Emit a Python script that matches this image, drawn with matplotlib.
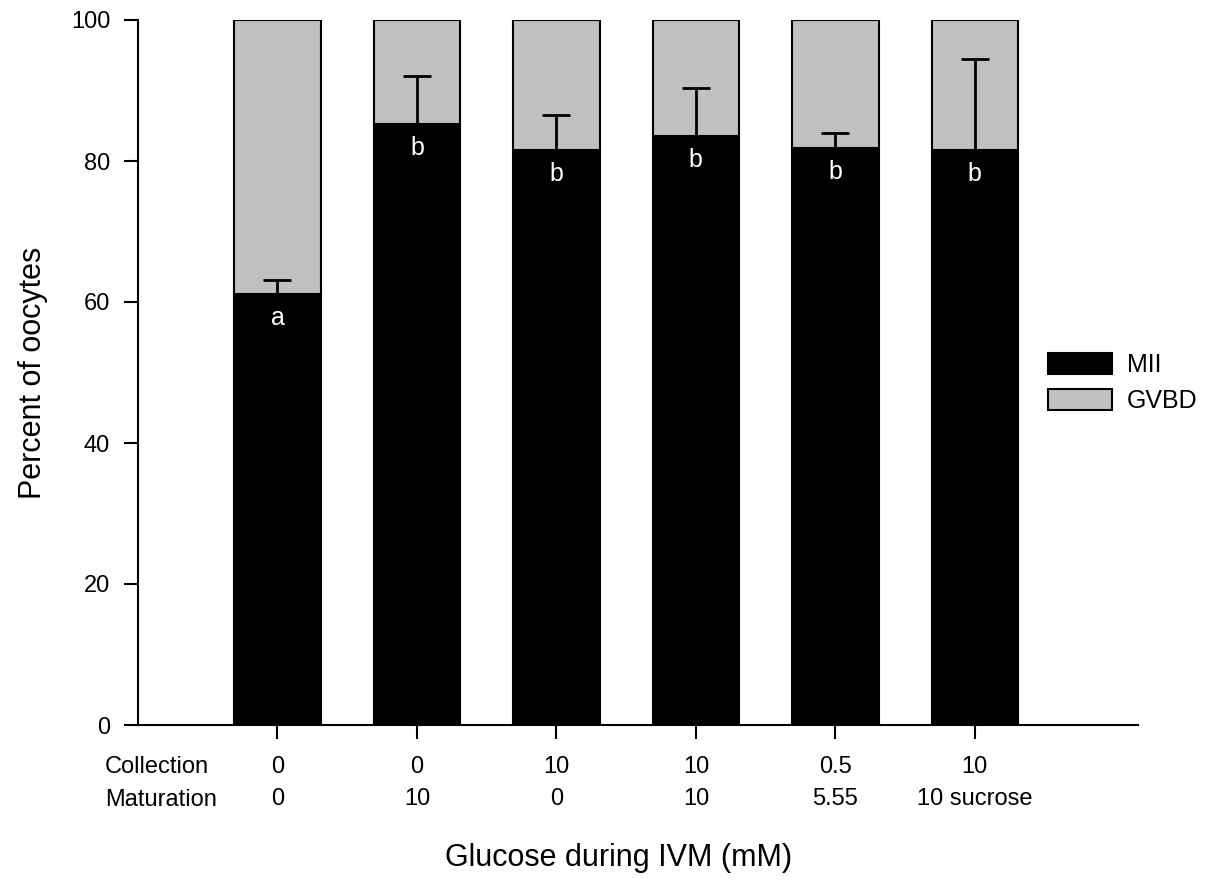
import matplotlib
matplotlib.use("Agg")
import matplotlib.pyplot as plt
from matplotlib.patches import Patch

plt.rcParams['font.family'] = ['Liberation Sans', 'DejaVu Sans']

collection = ["0", "0", "10", "10", "0.5", "10"]
maturation = ["0", "10", "0", "10", "5.55", "10 sucrose"]
mii = [61.2, 85.2, 81.6, 83.6, 81.8, 81.6]
mii_err_top = [63.1, 92.1, 86.5, 90.4, 84.0, 94.5]
letters = ["a", "b", "b", "b", "b", "b"]
yticks = [0, 20, 40, 60, 80, 100]

gray = '#c0c0c0'
fig = plt.figure(figsize=(12.19, 8.81), dpi=100)
ax = fig.add_axes([138/1219, 1-725/881, 1000/1219, 705/881])

x = list(range(1, len(mii) + 1))
gvbd = [100 - v for v in mii]
ax.bar(x, mii, width=0.62, color='black', edgecolor='black', linewidth=1.5, zorder=2)
ax.bar(x, gvbd, bottom=mii, width=0.62, color=gray, edgecolor='black', linewidth=1.5, zorder=2)
err = [[0]*len(mii), [t - v for t, v in zip(mii_err_top, mii)]]
ax.errorbar(x, mii, yerr=err, fmt='none', ecolor='black', elinewidth=2, capsize=10, capthick=2, zorder=3)
for xi, v, l in zip(x, mii, letters):
    ax.text(xi, v - 3.4, l, color='white', ha='center', va='center', fontsize=18, zorder=4)

ax.set_xlim(0, 7.17)
ax.set_ylim(0, 100)
ax.set_yticks(yticks)
ax.set_xticks(x)
ax.set_xticklabels([f"{c}\n{m}" for c, m in zip(collection, maturation)], linespacing=1.62)
ax.tick_params(axis='both', labelsize=17, length=10, width=1.5, direction='out')
ax.tick_params(axis='y', pad=10)
ax.tick_params(axis='x', pad=12)
for s in ['top', 'right']:
    ax.spines[s].set_visible(False)
for s in ['left', 'bottom']:
    ax.spines[s].set_linewidth(1.5)

ax.set_ylabel("Percent of oocytes", fontsize=22)
ax.yaxis.set_label_coords(-0.090, 0.5)
fig.text(619/1219, 1-858/881, "Glucose during IVM (mM)", fontsize=22, ha='center', va='center')
fig.text(105/1219, 1-767/881, "Collection", fontsize=17, ha='left', va='center')
fig.text(105/1219, 1-800/881, "Maturation", fontsize=17, ha='left', va='center')

handles = [Patch(facecolor='black', edgecolor='black', linewidth=1.5, label='MII'),
           Patch(facecolor=gray, edgecolor='black', linewidth=1.5, label='GVBD')]
fig.legend(handles=handles, loc='center left', bbox_to_anchor=(1048/1219, 1-383/881),
           frameon=False, fontsize=18, handlelength=2.56, handleheight=0.88,
           labelspacing=0.48, handletextpad=0.6, borderpad=0, borderaxespad=0)

fig.savefig("out.png", dpi=100)
